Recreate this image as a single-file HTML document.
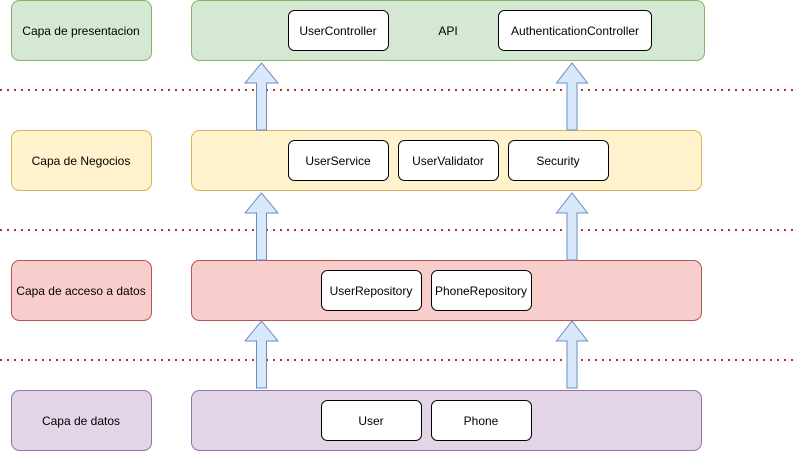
<!DOCTYPE html>
<html><head><style>body{margin:0;background:#fff}</style></head><body>
<svg width="793" height="451" xmlns="http://www.w3.org/2000/svg" font-family="Liberation Sans, sans-serif" font-size="12">
<g stroke-width="1">
<rect x="11.5" y="0.5" width="140" height="60" rx="8" fill="#d5e8d4" stroke="#82b366"/>
<rect x="191.5" y="0.5" width="513" height="60" rx="8" fill="#d5e8d4" stroke="#82b366"/>
<rect x="11.5" y="130.5" width="140" height="60" rx="8" fill="#fff2cc" stroke="#d6b656"/>
<rect x="191.5" y="130.5" width="510" height="60" rx="8" fill="#fff2cc" stroke="#d6b656"/>
<rect x="11.5" y="260.5" width="140" height="60" rx="8" fill="#f8cecc" stroke="#b85450"/>
<rect x="191.5" y="260.5" width="510" height="60" rx="8" fill="#f8cecc" stroke="#b85450"/>
<rect x="11.5" y="390.5" width="140" height="60" rx="8" fill="#e1d5e7" stroke="#9673a6"/>
<rect x="191.5" y="390.5" width="510" height="60" rx="8" fill="#e1d5e7" stroke="#9673a6"/>
</g>
<g stroke="#a33" stroke-width="2" stroke-dasharray="2 5">
<line x1="0" y1="90" x2="793" y2="90"/><line x1="0" y1="230" x2="793" y2="230"/><line x1="0" y1="360" x2="793" y2="360"/>
</g>
<g fill="#dae8fc" stroke="#6c8ebf">
<path d="M256.5 130 V83 H245 L261.5 63 L278 83 H266.5 V130 Z"/>
<path d="M567 130 V83 H556.5 L572 63 L587.5 83 H577 V130 Z"/>
<path d="M256.5 260 V213 H245 L261.5 193 L278 213 H266.5 V260 Z"/>
<path d="M567 260 V213 H556.5 L572 193 L587.5 213 H577 V260 Z"/>
<path d="M256.5 388 V341 H245 L261.5 321 L278 341 H266.5 V388 Z"/>
<path d="M567 388 V341 H556.5 L572 321 L587.5 341 H577 V388 Z"/>
</g>
<g fill="#fff" stroke="#000">
<rect x="288.5" y="10.5" width="100" height="40" rx="6"/>
<rect x="498.5" y="10.5" width="153" height="40" rx="6"/>
<rect x="288.5" y="140.5" width="100" height="40" rx="6"/>
<rect x="398.5" y="140.5" width="100" height="40" rx="6"/>
<rect x="508.5" y="140.5" width="100" height="40" rx="6"/>
<rect x="321.5" y="270.5" width="100" height="40" rx="6"/>
<rect x="431.5" y="270.5" width="100" height="40" rx="6"/>
<rect x="321.5" y="400.5" width="100" height="40" rx="6"/>
<rect x="431.5" y="400.5" width="100" height="40" rx="6"/>
</g>
<g text-anchor="middle" fill="#000">
<text x="81" y="35">Capa de presentacion</text>
<text x="81" y="165">Capa de Negocios</text>
<text x="81" y="295">Capa de acceso a datos</text>
<text x="81" y="425">Capa de datos</text>
<text x="338" y="35">UserController</text>
<text x="448" y="35">API</text>
<text x="575" y="35">AuthenticationController</text>
<text x="338" y="165">UserService</text>
<text x="448" y="165">UserValidator</text>
<text x="558" y="165">Security</text>
<text x="371" y="295">UserRepository</text>
<text x="481" y="295">PhoneRepository</text>
<text x="371" y="425">User</text>
<text x="481" y="425">Phone</text>
</g>
</svg>
</body></html>
